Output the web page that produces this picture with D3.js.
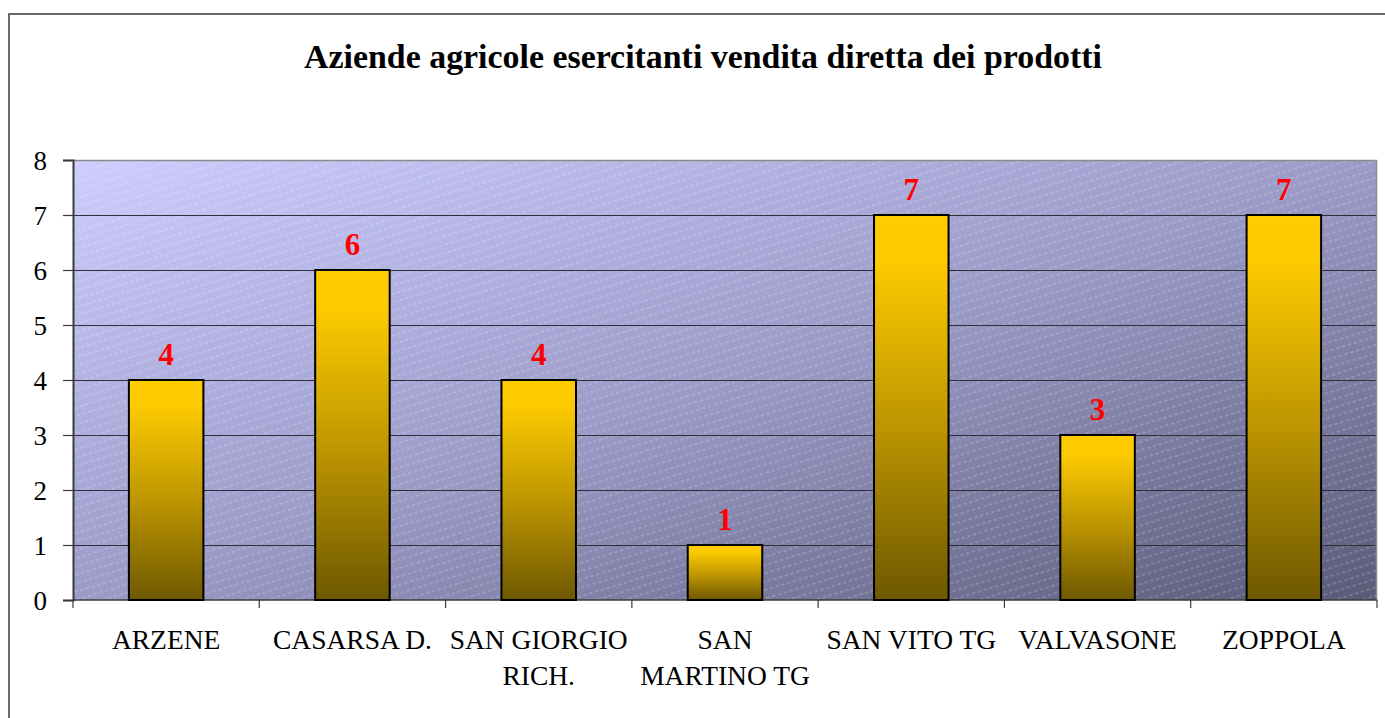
<!DOCTYPE html>
<html>
<head>
<meta charset="utf-8">
<script src="https://cdn.jsdelivr.net/npm/d3@7"></script>
<style>
  html, body { margin: 0; padding: 0; background: #ffffff; }
  svg { display: block; }
</style>
</head>
<body>
<svg id="chart" width="1385" height="718"></svg>
<script>
const title = "Aziende agricole esercitanti vendita diretta dei prodotti";
const categories = ["ARZENE", "CASARSA D.", "SAN GIORGIO RICH.", "SAN MARTINO TG", "SAN VITO TG", "VALVASONE", "ZOPPOLA"];
const categoryLines = [["ARZENE"], ["CASARSA D."], ["SAN GIORGIO", "RICH."], ["SAN", "MARTINO TG"], ["SAN VITO TG"], ["VALVASONE"], ["ZOPPOLA"]];
const values = [4, 6, 4, 1, 7, 3, 7];
const yTicks = [0, 1, 2, 3, 4, 5, 6, 7, 8];

const svg = d3.select("#chart");
const W = 1385, H = 718;
const plot = { left: 73, top: 160, right: 1377, bottom: 600 };
const serif = "'Liberation Serif', 'DejaVu Serif', serif";

const defs = svg.append("defs");
const bg = defs.append("linearGradient").attr("id", "bgGrad")
  .attr("x1", 0).attr("y1", 0).attr("x2", 1).attr("y2", 1);
bg.append("stop").attr("offset", 0).attr("stop-color", "#CDCDFE");
bg.append("stop").attr("offset", 0.5).attr("stop-color", "#9B9BC8");
bg.append("stop").attr("offset", 1).attr("stop-color", "#5A5A78");

const barGrad = defs.append("linearGradient").attr("id", "barGrad")
  .attr("x1", 0).attr("y1", 0).attr("x2", 0).attr("y2", 1);
barGrad.append("stop").attr("offset", 0).attr("stop-color", "#FFCC00");
barGrad.append("stop").attr("offset", 0.12).attr("stop-color", "#FCCA00");
barGrad.append("stop").attr("offset", 0.55).attr("stop-color", "#BC9500");
barGrad.append("stop").attr("offset", 1).attr("stop-color", "#6E5800");

const hatch = defs.append("pattern").attr("id", "hatch")
  .attr("patternUnits", "userSpaceOnUse")
  .attr("width", 6).attr("height", 8)
  .attr("patternTransform", "rotate(-17)");
hatch.append("line").attr("x1", 0).attr("y1", 4).attr("x2", 3.5).attr("y2", 4)
  .attr("stroke", "#ffffff").attr("stroke-opacity", 0.33).attr("stroke-width", 1);

// outer frame
svg.append("rect").attr("x", 9).attr("y", 14).attr("width", W + 20).attr("height", H + 20)
  .attr("fill", "none").attr("stroke", "#3a3a3a").attr("stroke-width", 1.5);

// title
const titleText = svg.append("text")
  .attr("x", 703).attr("y", 68)
  .attr("text-anchor", "middle")
  .attr("font-family", serif).attr("font-weight", "bold")
  .attr("font-size", 31).attr("fill", "#000")
  .text(title);
const tw = titleText.node().getComputedTextLength();
titleText.attr("font-size", 31 * 798 / tw);

const x = d3.scaleBand().domain(categories)
  .range([plot.left, plot.right]).paddingInner(0.6).paddingOuter(0.3);
const y = d3.scaleLinear().domain([0, 8]).range([plot.bottom, plot.top]);

// plot background
svg.append("rect").attr("x", plot.left).attr("y", plot.top)
  .attr("width", plot.right - plot.left).attr("height", plot.bottom - plot.top)
  .attr("fill", "url(#bgGrad)");
svg.append("rect").attr("x", plot.left).attr("y", plot.top)
  .attr("width", plot.right - plot.left).attr("height", plot.bottom - plot.top)
  .attr("fill", "url(#hatch)");

// gridlines
svg.append("g").selectAll("line").data(yTicks.filter(d => d > 0 && d < 8)).join("line")
  .attr("x1", plot.left).attr("x2", plot.right)
  .attr("y1", d => Math.round(y(d)) + 0.5).attr("y2", d => Math.round(y(d)) + 0.5)
  .attr("stroke", "#2f2f3a").attr("stroke-width", 1);

// top and right border
svg.append("path")
  .attr("d", `M${plot.left},${plot.top + 0.5}H${plot.right - 0.5}V${plot.bottom}`)
  .attr("fill", "none").attr("stroke", "#8a8a8a").attr("stroke-width", 1.5);

// y axis
const yAxis = d3.axisLeft(y).tickValues(yTicks).tickSize(10).tickPadding(16).tickFormat(d3.format("d"));
const yg = svg.append("g").attr("transform", `translate(${plot.left},0)`).call(yAxis);
yg.select(".domain").attr("stroke", "#3a3a3a").attr("stroke-width", 2);
yg.selectAll(".tick line").attr("stroke", "#3a3a3a").attr("stroke-width", 1.2);
yg.selectAll(".tick text").attr("font-family", serif).attr("font-size", 27).attr("fill", "#000")
  .attr("dy", "0.34em");

// x axis line and ticks at category boundaries
const step = x.step();
const boundaries = d3.range(categories.length + 1).map(i => plot.left + i * step);
svg.append("line").attr("x1", plot.left).attr("x2", plot.right)
  .attr("y1", plot.bottom).attr("y2", plot.bottom)
  .attr("stroke", "#3a3a3a").attr("stroke-width", 1.5);
svg.append("g").selectAll("line").data(boundaries).join("line")
  .attr("x1", d => d).attr("x2", d => d)
  .attr("y1", plot.bottom).attr("y2", plot.bottom + 8)
  .attr("stroke", "#3a3a3a").attr("stroke-width", 1.2);

// bars
svg.append("g").selectAll("rect").data(values).join("rect")
  .attr("x", (d, i) => x(categories[i]))
  .attr("y", d => y(d))
  .attr("width", x.bandwidth())
  .attr("height", d => y(0) - y(d))
  .attr("fill", "url(#barGrad)")
  .attr("stroke", "#000").attr("stroke-width", 2);

// value labels
svg.append("g").selectAll("text").data(values).join("text")
  .attr("x", (d, i) => x(categories[i]) + x.bandwidth() / 2)
  .attr("y", d => y(d) - 15)
  .attr("text-anchor", "middle")
  .attr("font-family", serif).attr("font-weight", "bold")
  .attr("font-size", 31).attr("fill", "#FF0000")
  .text(d => d);

// category labels
const cl = svg.append("g").selectAll("text").data(categoryLines).join("text")
  .attr("x", (d, i) => x(categories[i]) + x.bandwidth() / 2)
  .attr("y", 649)
  .attr("text-anchor", "middle")
  .attr("font-family", serif).attr("font-size", 27.5).attr("fill", "#000");
cl.each(function(lines) {
  const t = d3.select(this);
  const cx = t.attr("x");
  lines.forEach((ln, j) => {
    t.append("tspan").attr("x", cx).attr("dy", j === 0 ? 0 : 36).text(ln);
  });
});
</script>
</body>
</html>
